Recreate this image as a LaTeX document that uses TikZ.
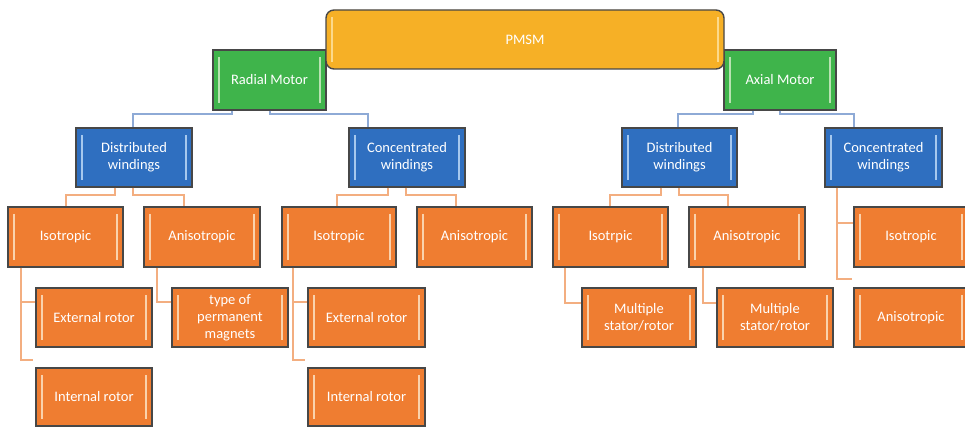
\documentclass[tikz,border=0pt]{standalone}
\usepackage{fontspec}
\setmainfont{Carlito}
\definecolor{pmsmfill}{HTML}{F6B026}
\definecolor{pmsmbar}{HTML}{FCD98A}
\definecolor{motorfill}{HTML}{3FB44B}
\definecolor{motorbar}{HTML}{B9E2B2}
\definecolor{windfill}{HTML}{2F6FC0}
\definecolor{windbar}{HTML}{A6C8EE}
\definecolor{typefill}{HTML}{EF7D31}
\definecolor{typebar}{HTML}{FAD2AC}
\definecolor{edge}{HTML}{474747}
\definecolor{blueline}{HTML}{8EAAD6}
\definecolor{orangeline}{HTML}{F3AE80}
\tikzset{
  box/.style n args={2}{draw=edge, line width=1.4pt, fill=#1,
    text=white, align=center, font=\fontsize{14.5}{17}\selectfont,
    inner sep=0pt, rectangle,
    path picture={
      \draw[#2, line width=2pt]
        ([xshift=6pt,yshift=-7pt]path picture bounding box.north west) --
        ([xshift=6pt,yshift=7pt]path picture bounding box.south west);
      \draw[#2, line width=2pt]
        ([xshift=-6pt,yshift=-7pt]path picture bounding box.north east) --
        ([xshift=-6pt,yshift=7pt]path picture bounding box.south east);
    }},
  topbox/.style={box={pmsmfill}{pmsmbar}, rounded corners=8pt},
  motorbox/.style={box={motorfill}{motorbar}},
  windbox/.style={box={windfill}{windbar}},
  typebox/.style={box={typefill}{typebar}},
  bline/.style={draw=blueline, line width=1.6pt},
  oline/.style={draw=orangeline, line width=1.4pt},
}
% place a box by its left, right, top and bottom edges (in pixels, y downwards)
\newcommand\boxat[7]{%
  \node[#1, minimum width={(#4-#3)*1pt}, minimum height={(#6-#5)*1pt}]
    (#2) at ({(#3+#4)/2},{(#5+#6)/2}) {#7};}
\begin{document}
\begin{tikzpicture}[x=1pt, y=-1pt]
\useasboundingbox (0,0) rectangle (965,427);

% level 1: motor types
\boxat{motorbox}{rad}{213}{326}{50}{110}{Radial Motor}
\boxat{motorbox}{ax}{724}{836}{50}{110}{Axial Motor}
% root
\boxat{topbox}{pmsm}{326}{724}{10}{69}{PMSM}

% level 2: windings
\boxat{windbox}{dw1}{76}{192}{128}{187}{Distributed\\windings}
\boxat{windbox}{cw1}{349}{465}{128}{187}{Concentrated\\windings}
\boxat{windbox}{dw2}{622}{737}{128}{187}{Distributed\\windings}
\boxat{windbox}{cw2}{825}{942}{128}{187}{Concentrated\\windings}

% level 3
\boxat{typebox}{iso1}{8}{123}{207}{267}{Isotropic}
\boxat{typebox}{ani1}{144}{260}{207}{267}{Anisotropic}
\boxat{typebox}{iso2}{282}{396}{207}{267}{Isotropic}
\boxat{typebox}{ani2}{417}{532}{207}{267}{Anisotropic}
\boxat{typebox}{iso3}{553}{668}{207}{267}{Isotrpic}
\boxat{typebox}{ani3}{689}{805}{207}{267}{Anisotropic}
\boxat{typebox}{iso4}{854}{968}{207}{267}{Isotropic}

% level 4
\boxat{typebox}{ext1}{36}{152}{288}{347}{External rotor}
\boxat{typebox}{int1}{36}{152}{368}{426}{Internal rotor}
\boxat{typebox}{perm}{172}{288}{288}{347}{type of\\permanent\\magnets}
\boxat{typebox}{ext2}{308}{425}{288}{347}{External rotor}
\boxat{typebox}{int2}{308}{425}{368}{426}{Internal rotor}
\boxat{typebox}{ms1}{582}{696}{288}{347}{Multiple\\stator/rotor}
\boxat{typebox}{ms2}{717}{833}{288}{347}{Multiple\\stator/rotor}
\boxat{typebox}{ani4}{854}{968}{288}{347}{Anisotropic}

% motor -> windings
\draw[bline] (rad.south -| 232,0) -- (232,114) -| (dw1.north -| 133,0);
\draw[bline] (rad.south -| 270,0) -- (270,114) -| (cw1.north -| 368,0);
\draw[bline] (ax.south -| 753,0) -- (753,114) -| (dw2.north -| 678,0);
\draw[bline] (ax.south -| 780,0) -- (780,114) -| (cw2.north -| 854,0);

% windings -> level 3
\draw[oline] (dw1.south -| 115,0) -- (115,195) -| (iso1.north -| 66,0);
\draw[oline] (dw1.south -| 133,0) -- (133,195) -| (ani1.north -| 184,0);
\draw[oline] (cw1.south -| 388,0) -- (388,195) -| (iso2.north -| 337,0);
\draw[oline] (cw1.south -| 406,0) -- (406,195) -| (ani2.north -| 456,0);
\draw[oline] (dw2.south -| 661,0) -- (661,195) -| (iso3.north -| 610,0);
\draw[oline] (dw2.south -| 679,0) -- (679,195) -| (ani3.north -| 728,0);
\draw[oline] (cw2.south -| 837,0) -- (837,279) -- (852,279);
\draw[oline] (837,223) -- (iso4.west |- 0,223);

% level 3 -> level 4
\draw[oline] (iso1.south -| 21,0) -- (21,360) -- (33,360);
\draw[oline] (21,302) -- (ext1.west |- 0,302);
\draw[oline] (ani1.south -| 157,0) |- (perm.west |- 0,302);
\draw[oline] (iso2.south -| 293,0) -- (293,360) -- (305,360);
\draw[oline] (293,302) -- (ext2.west |- 0,302);
\draw[oline] (iso3.south -| 565,0) |- (ms1.west |- 0,303);
\draw[oline] (ani3.south -| 703,0) |- (ms2.west |- 0,303);
\end{tikzpicture}
\end{document}
